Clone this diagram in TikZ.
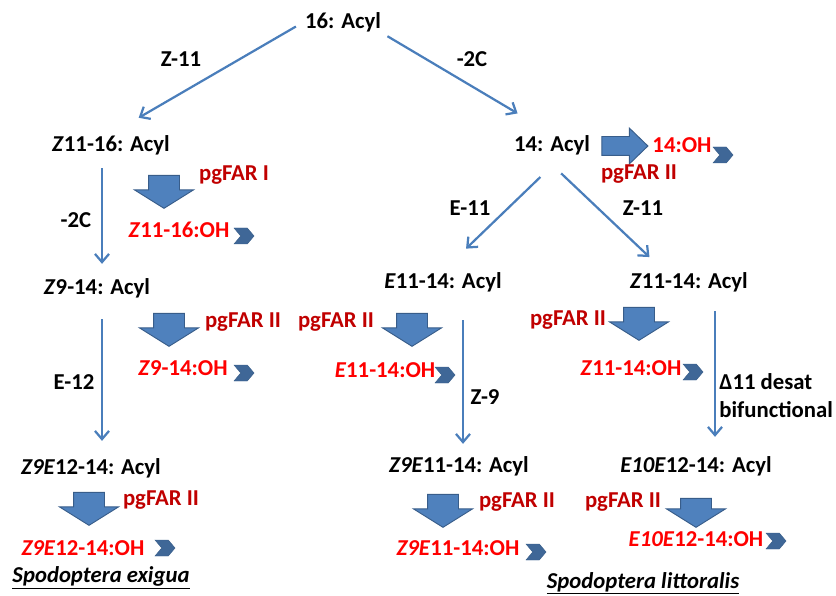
\documentclass[tikz,border=0pt]{standalone}
\usepackage{fontspec}
\setmainfont{Carlito}
\usepackage{tikz}
\usetikzlibrary{arrows.meta, positioning, shapes.arrows, shapes.symbols}
\definecolor{pathblue}{RGB}{74,126,187}
\definecolor{blkblue}{RGB}{79,129,189}
\definecolor{blkedge}{RGB}{56,93,138}
\definecolor{ohred}{RGB}{255,0,0}
\definecolor{farred}{RGB}{192,0,0}
\newlength\pxu
\setlength\pxu{0.03cm}

\begin{document}
\begin{tikzpicture}[x=0.03cm, y=-0.03cm,
  every node/.style={font=\bfseries\fontsize{19.4}{23}\selectfont, inner sep=1pt},
  acyl/.style={text=black},
  enz/.style={text=black},
  ohprod/.style={text=ohred},
  far/.style={text=farred},
  thinarr/.style={
    -{Straight Barb[length=7pt,width=12pt]}, draw=pathblue, line width=1.9pt,
  },
  blkdown/.style={
    single arrow, shape border rotate=270,
    draw=blkedge, fill=blkblue, line width=0.8pt,
    inner xsep=15\pxu, inner ysep=0pt,
    minimum height=33\pxu, minimum width=58\pxu,
    single arrow head extend=14\pxu, single arrow tip angle=116,
  },
  blkright/.style={
    single arrow,
    draw=blkedge, fill=blkblue, line width=0.8pt,
    inner xsep=0pt, inner ysep=9\pxu,
    minimum height=46\pxu, minimum width=35\pxu,
    single arrow head extend=8.5\pxu, single arrow tip angle=88,
  },
  chev/.style={
    signal, signal from=west, signal to=east, signal pointer angle=100,
    draw=blkedge, fill=blkblue!80!black,
    minimum width=20\pxu, minimum height=16\pxu, inner sep=0pt,
  },
  species/.style={font=\bfseries\itshape\fontsize{19.4}{23}\selectfont},
]
\useasboundingbox (0,0) rectangle (836,596);

% --- top ---
\node[acyl] (acyl16) at (343,22) {16: Acyl};
\node[enz] (z11a) at (181,59) {Z-11};
\node[enz] (c2a) at (472,59) {-2C};

% --- 16-carbon branch ---
\node[acyl] (z1116) at (111,145) {\textit{Z}11-16: Acyl};
\node[blkdown] (bd1) at (164,187) {};
\node[far] (far1) at (234,175) {pgFAR I};
\node[enz] (c2b) at (76,220) {-2C};
\node[ohprod] (oh1) at (179,230) {\textit{Z}11-16:OH};
\node[chev] (ch1) at (244,236) {};

\node[acyl] (z914) at (97,288) {\textit{Z}9-14: Acyl};
\node[blkdown] (bd2) at (169,325) {};
\node[far] (far2) at (243,322) {pgFAR II};
\node[ohprod] (oh2) at (183,368) {\textit{Z}9-14:OH};
\node[chev] (ch2) at (244,373) {};
\node[enz] (e12) at (74,382) {E-12};

\node[acyl] (z9e1214) at (91,468) {\textit{Z9E}12-14: Acyl};
\node[blkdown] (bd5) at (89,504) {};
\node[far] (far5) at (161,500) {pgFAR II};
\node[ohprod] (oh5) at (83,548) {\textit{Z9E}12-14:OH};
\node[chev] (ch5) at (165,548) {};
\node[species] (spexi) at (101,578) {\underline{Spodoptera exigua}};

% --- 14-carbon branch ---
\node[acyl] (acyl14) at (552,145) {14: Acyl};
\node[blkright] (br14) at (620,146) {};
\node[ohprod] (oh14) at (682,145) {14:OH};
\node[chev] (ch14) at (723,155) {};
\node[far] (far14) at (639,174) {pgFAR II};
\node[enz] (e11) at (470,208) {E-11};
\node[enz] (z11b) at (643,208) {Z-11};

\node[acyl] (e1114) at (443,282) {\textit{E}11-14: Acyl};
\node[far] (far3) at (336,322) {pgFAR II};
\node[blkdown] (bd3) at (412,325) {};
\node[ohprod] (oh3) at (385,370) {\textit{E}11-14:OH};
\node[chev] (ch3) at (445,375) {};
\node[enz] (z9) at (485,397) {Z-9};

\node[acyl] (z9e1114) at (459,466) {\textit{Z9E}11-14: Acyl};
\node[blkdown] (bd6) at (443,506) {};
\node[far] (far6) at (517,502) {pgFAR II};
\node[ohprod] (oh6) at (458,548) {\textit{Z9E}11-14:OH};
\node[chev] (ch6) at (536,552) {};

\node[acyl] (z1114) at (689,282) {\textit{Z}11-14: Acyl};
\node[far] (far4) at (568,320) {pgFAR II};
\node[blkdown] (bd4) at (639,319) {};
\node[ohprod] (oh4) at (631,368) {\textit{Z}11-14:OH};
\node[chev] (ch4) at (693,372) {};
\node[enz, anchor=west] (desat) at (718,382) {Δ11 desat};
\node[enz, anchor=west] (bifun) at (718,410) {bifunctional};

\node[acyl] (e10e1214) at (696,466) {\textit{E10E}12-14: Acyl};
\node[far] (far7) at (623,502) {pgFAR II};
\node[blkdown, minimum height=29\pxu] (bd7) at (696,508) {};
\node[ohprod] (oh7) at (696,539) {\textit{E10E}12-14:OH};
\node[chev] (ch7) at (776,541) {};
\node[species] (split) at (643,583) {\underline{Spodoptera littoralis}};

% --- connectors ---
\draw[thinarr, shorten <=9\pxu, shorten >=32\pxu] (acyl16.west) -- (z1116.north);
\draw[thinarr, shorten <=6\pxu, shorten >=40\pxu] (acyl16.south east) -- (acyl14.north);
\draw[thinarr, shorten <=12\pxu, shorten >=13\pxu]
  ([xshift=-9\pxu]z1116.south) -- ([xshift=5\pxu]z914.north);
\draw[thinarr, shorten <=20\pxu, shorten >=16\pxu]
  ([xshift=5\pxu]z914.south) -- ([xshift=11\pxu]z9e1214.north);
\draw[thinarr, shorten <=30\pxu, shorten >=32\pxu]
  ([xshift=10\pxu]acyl14.south) -- (e1114.north);
\draw[thinarr, shorten <=25\pxu, shorten >=20\pxu]
  ([xshift=-9\pxu]acyl14.south) -- ([xshift=-25\pxu]z1114.north);
\draw[thinarr, shorten <=27\pxu, shorten >=11\pxu]
  ([xshift=20\pxu]e1114.south) -- ([xshift=4\pxu]z9e1114.north);
\draw[thinarr, shorten <=18\pxu, shorten >=18\pxu]
  ([xshift=26\pxu]z1114.south) -- ([xshift=19\pxu]e10e1214.north);

\end{tikzpicture}
\end{document}
